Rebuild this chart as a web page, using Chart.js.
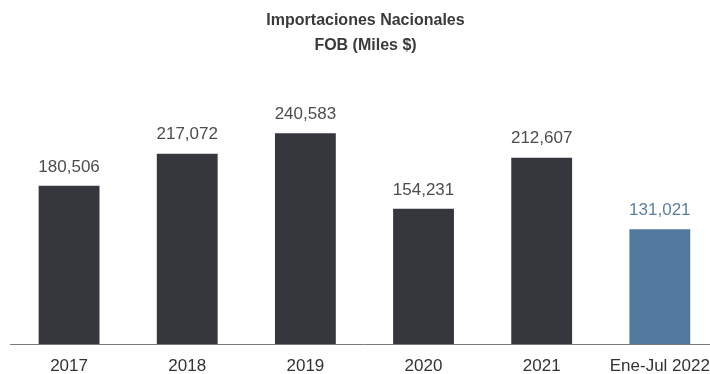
<!DOCTYPE html>
<html>
<head>
<meta charset="utf-8">
<script src="https://cdn.jsdelivr.net/npm/chart.js@4.4.1/dist/chart.umd.min.js"></script>
<style>
html,body{margin:0;padding:0;background:#ffffff;overflow:hidden;}
#wrap{width:722px;height:374px;position:relative;}
</style>
</head>
<body>
<div id="wrap"><canvas id="c" width="722" height="374"></canvas></div>
<script>
const categories = ["2017", "2018", "2019", "2020", "2021", "Ene-Jul 2022"];
const values = [180506, 217072, 240583, 154231, 212607, 131021];
const valueLabels = ["180,506", "217,072", "240,583", "154,231", "212,607", "131,021"];
const titleLines = ["Importaciones Nacionales", "FOB (Miles $)"];

const barColors = ["#36373c", "#36373c", "#36373c", "#36373c", "#36373c", "#527a9e"];
const labelColors = ["#4d4d4f", "#4d4d4f", "#4d4d4f", "#4d4d4f", "#4d4d4f", "#5b7fa0"];

const valueLabelPlugin = {
  id: 'valueLabels',
  afterDatasetsDraw(chart) {
    const ctx = chart.ctx;
    const meta = chart.getDatasetMeta(0);
    ctx.save();
    ctx.font = '17px "Liberation Sans", Arial, sans-serif';
    ctx.textAlign = 'center';
    ctx.textBaseline = 'middle';
    meta.data.forEach((bar, i) => {
      ctx.fillStyle = labelColors[i];
      ctx.fillText(valueLabels[i], bar.x, bar.y - 19);
    });
    ctx.restore();
  }
};

new Chart(document.getElementById('c'), {
  type: 'bar',
  data: {
    labels: categories,
    datasets: [{
      data: values,
      backgroundColor: barColors,
      borderWidth: 0,
      barPercentage: 0.515,
      categoryPercentage: 1.0
    }]
  },
  options: {
    responsive: false,
    animation: false,
    devicePixelRatio: 1,
    layout: { padding: { left: 10, right: 1, top: 0, bottom: 0 } },
    plugins: {
      legend: { display: false },
      tooltip: { enabled: false },
      title: {
        display: true,
        text: titleLines,
        color: '#3a3a3a',
        font: { family: '"Liberation Sans", Arial, sans-serif', size: 16, weight: 'bold', lineHeight: 1.55 },
        padding: { top: 8, bottom: 20 }
      }
    },
    scales: {
      x: {
        grid: { display: false, drawTicks: false, tickLength: 0 },
        border: { display: true, color: '#7a7a7a', width: 1 },
        ticks: {
          color: '#333333',
          font: { family: '"Liberation Sans", Arial, sans-serif', size: 17 },
          padding: 12,
          maxRotation: 0,
          autoSkip: false
        },
        afterFit(scale) { scale.height = 30; }
      },
      y: {
        display: false,
        min: 0,
        max: 304000
      }
    }
  },
  plugins: [valueLabelPlugin]
});
</script>
</body>
</html>
